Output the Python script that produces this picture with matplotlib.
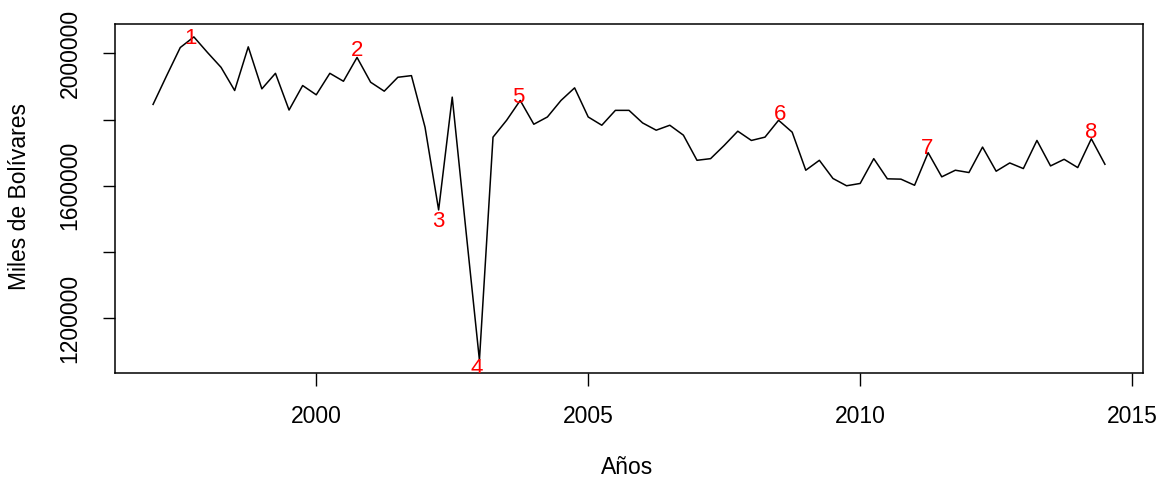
import numpy as np
import matplotlib
matplotlib.use("Agg")
import matplotlib.pyplot as plt

plt.rcParams['font.family'] = ['Liberation Sans', 'DejaVu Sans']

# Quarterly series, 1997 Q1 - 2014 Q3 (miles de bolívares)
start_year = 1997
valores = [
    1846000, 1933000, 2018000, 2050000, 2003000, 1958000, 1888000, 2020000,
    1893000, 1940000, 1829000, 1903000, 1875000, 1940000, 1916000, 1988000,
    1913000, 1886000, 1928000, 1933000, 1777000, 1527000, 1868000, 1468000,
    1073000, 1747000, 1798000, 1858000, 1786000, 1808000, 1858000, 1896000,
    1808000, 1783000, 1828000, 1828000, 1790000, 1768000, 1783000, 1753000,
    1677000, 1682000, 1722000, 1765000, 1737000, 1747000, 1798000, 1762000,
    1647000, 1677000, 1622000, 1600000, 1607000, 1682000, 1621000, 1620000,
    1601500, 1700000, 1627000, 1647000, 1640000, 1717000, 1644000, 1669000,
    1652000, 1737000, 1660000, 1680000, 1655000, 1742000, 1665000,
]

# Flagged observations (index into the series) and their labels
puntos = [3, 15, 21, 24, 27, 46, 57, 69]
etiquetas = ["1", "2", "3", "4", "5", "6", "7", "8"]
desplazamientos = [(-3, -2), (0, 7), (0, -12), (-3, -8), (-2, 3), (1, 6), (-1, 4), (0, 6)]

y_ticks = [1200000, 1400000, 1600000, 1800000, 2000000]
y_ticklabels = ["1200000", "", "1600000", "", "2000000"]
x_ticks = [2000, 2005, 2010, 2015]

anios = start_year + np.arange(len(valores)) / 4.0
valores = np.array(valores, dtype=float)

fig = plt.figure(figsize=(11.59, 4.80), dpi=100)
ax = fig.add_axes([115 / 1159, 1 - 373 / 480, (1143 - 115) / 1159, (373 - 24) / 480])

ax.plot(anios, valores, color="black", lw=1.1)
ax.margins(x=0.04, y=0.04)

for idx, lab, (dx, dy) in zip(puntos, etiquetas, desplazamientos):
    ax.annotate(lab, (anios[idx], valores[idx]), xytext=(dx, dy),
                textcoords="offset pixels", ha="center", va="center",
                color="red", fontsize=16, clip_on=True)

ax.set_xticks(x_ticks)
ax.set_xticklabels([str(t) for t in x_ticks])
ax.set_yticks(y_ticks)
ax.set_yticklabels(y_ticklabels, rotation=90, va="center")

ax.tick_params(axis="both", direction="out", length=9, width=1,
               labelsize=16.5, colors="black")
ax.tick_params(axis="x", pad=14)
ax.tick_params(axis="y", pad=15)
for s in ax.spines.values():
    s.set_linewidth(1.1)
    s.set_color("black")

fig.text(627 / 1159, 1 - 467 / 480, "Años", ha="center", va="center", fontsize=16.5)
fig.text(20 / 1159, 1 - 196 / 480, "Miles de Bolívares", ha="center", va="center",
         rotation=90, fontsize=16.5)

fig.savefig("out.png", dpi=100)
